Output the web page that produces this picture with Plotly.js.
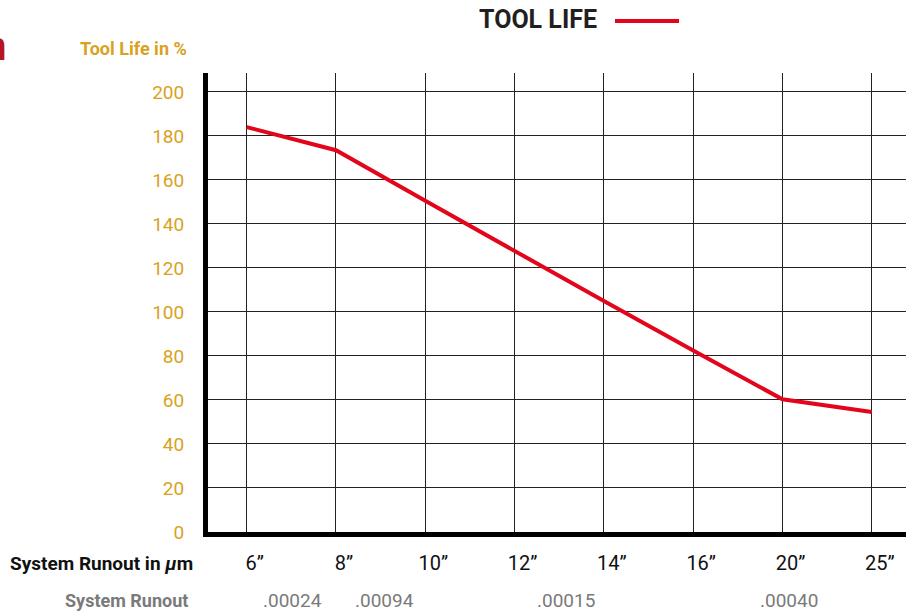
<!DOCTYPE html>
<html>
<head>
<meta charset="utf-8">
<script src="https://cdn.plot.ly/plotly-3.0.1.min.js"></script>
<style>html,body{margin:0;padding:0;background:#fff;}#chart{width:906px;height:614px;}</style>
</head>
<body>
<div id="chart"></div>
<script>
// ---- data ----
const runoutInches = ['6\u201D', '8\u201D', '10\u201D', '12\u201D', '14\u201D', '16\u201D', '20\u201D', '25\u201D'];
const toolLife = [184, 173.5, 150.5, 127.5, 105, 82.5, 60.3, 54.5];
const runoutValues = ['.00024', '.00094', '.00015', '.00040'];
const seriesName = 'TOOL LIFE';
const yTitle = 'Tool Life in %';
const xTitle = 'System Runout in <i>\u03BC</i>m';
const runoutTitle = 'System Runout';

// ---- layout helpers ----
const W = 906, H = 614;
const L = 208, R = 906, T = 73, B = 532;
const px = x => (x - L) / (R - L);
const py = y => (B - y) / (B - T);
const runoutPos = [0.51, 1.54, 3.58, 6.07];

const COND = 'Roboto, "Liberation Sans", sans-serif';
const GOLD = '#D9A21E';
const RED = '#E3051B';

const trace = {
  type: 'scatter', mode: 'lines',
  x: runoutInches, y: toolLife, name: seriesName,
  line: {color: RED, width: 4},
  hoverinfo: 'skip'
};

const annotations = [
  {text: yTitle, xref: 'paper', yref: 'paper', x: px(189), y: py(49), xanchor: 'right', yanchor: 'middle',
   showarrow: false, font: {family: COND, size: 18, color: GOLD, weight: 'bold'}},
  {text: xTitle, xref: 'paper', yref: 'paper', x: px(195), y: py(563), xanchor: 'right', yanchor: 'middle',
   showarrow: false, font: {family: COND, size: 19, color: '#111', weight: 'bold'}},
  {text: runoutTitle, xref: 'paper', yref: 'paper', x: px(190), y: py(600), xanchor: 'right', yanchor: 'middle',
   showarrow: false, font: {family: COND, size: 18, color: '#7a7a7a', weight: 'bold'}},
  {text: seriesName, xref: 'paper', yref: 'paper', x: px(538), y: py(20), xanchor: 'center', yanchor: 'middle',
   showarrow: false, font: {family: 'Roboto, "DejaVu Sans", sans-serif', size: 25, color: '#231f20', weight: 'bold'}},
  {text: 'n', xref: 'paper', yref: 'paper', x: px(8), y: py(47), xanchor: 'right', yanchor: 'middle',
   showarrow: false, font: {family: COND, size: 40, color: '#B8161F', weight: 'bold'}}
];
runoutValues.forEach((v, i) => annotations.push({
  text: v, xref: 'x', yref: 'paper', x: runoutPos[i], y: py(600), xanchor: 'center', yanchor: 'middle',
  showarrow: false, font: {family: COND, size: 19, color: '#7a7a7a'}
}));

const layout = {
  width: W, height: H,
  margin: {l: L, r: W - R, t: T, b: H - B, pad: 0},
  paper_bgcolor: '#fff', plot_bgcolor: '#fff',
  showlegend: false,
  xaxis: {
    type: 'category', range: [-0.433, 7.383],
    showgrid: true, gridcolor: '#222', gridwidth: 1,
    showline: true, linecolor: '#000', linewidth: 5,
    ticks: '', zeroline: false,
    tickfont: {family: COND, size: 20, color: '#111'},
    ticklabelshift: 8, ticklabelstandoff: 9,
    fixedrange: true
  },
  yaxis: {
    range: [0, 208.6], dtick: 20, tick0: 0,
    showgrid: true, gridcolor: '#222', gridwidth: 1,
    showline: true, linecolor: '#000', linewidth: 5,
    ticks: '', zeroline: false,
    tickfont: {family: COND, size: 19, color: GOLD},
    ticklabelstandoff: 15,
    fixedrange: true
  },
  annotations: annotations,
  shapes: [
    {type: 'line', xref: 'paper', yref: 'paper', x0: px(615), x1: px(679), y0: py(21), y1: py(21),
     line: {color: RED, width: 4}}
  ]
};

Plotly.newPlot('chart', [trace], layout, {displayModeBar: false, staticPlot: true});
</script>
</body>
</html>
